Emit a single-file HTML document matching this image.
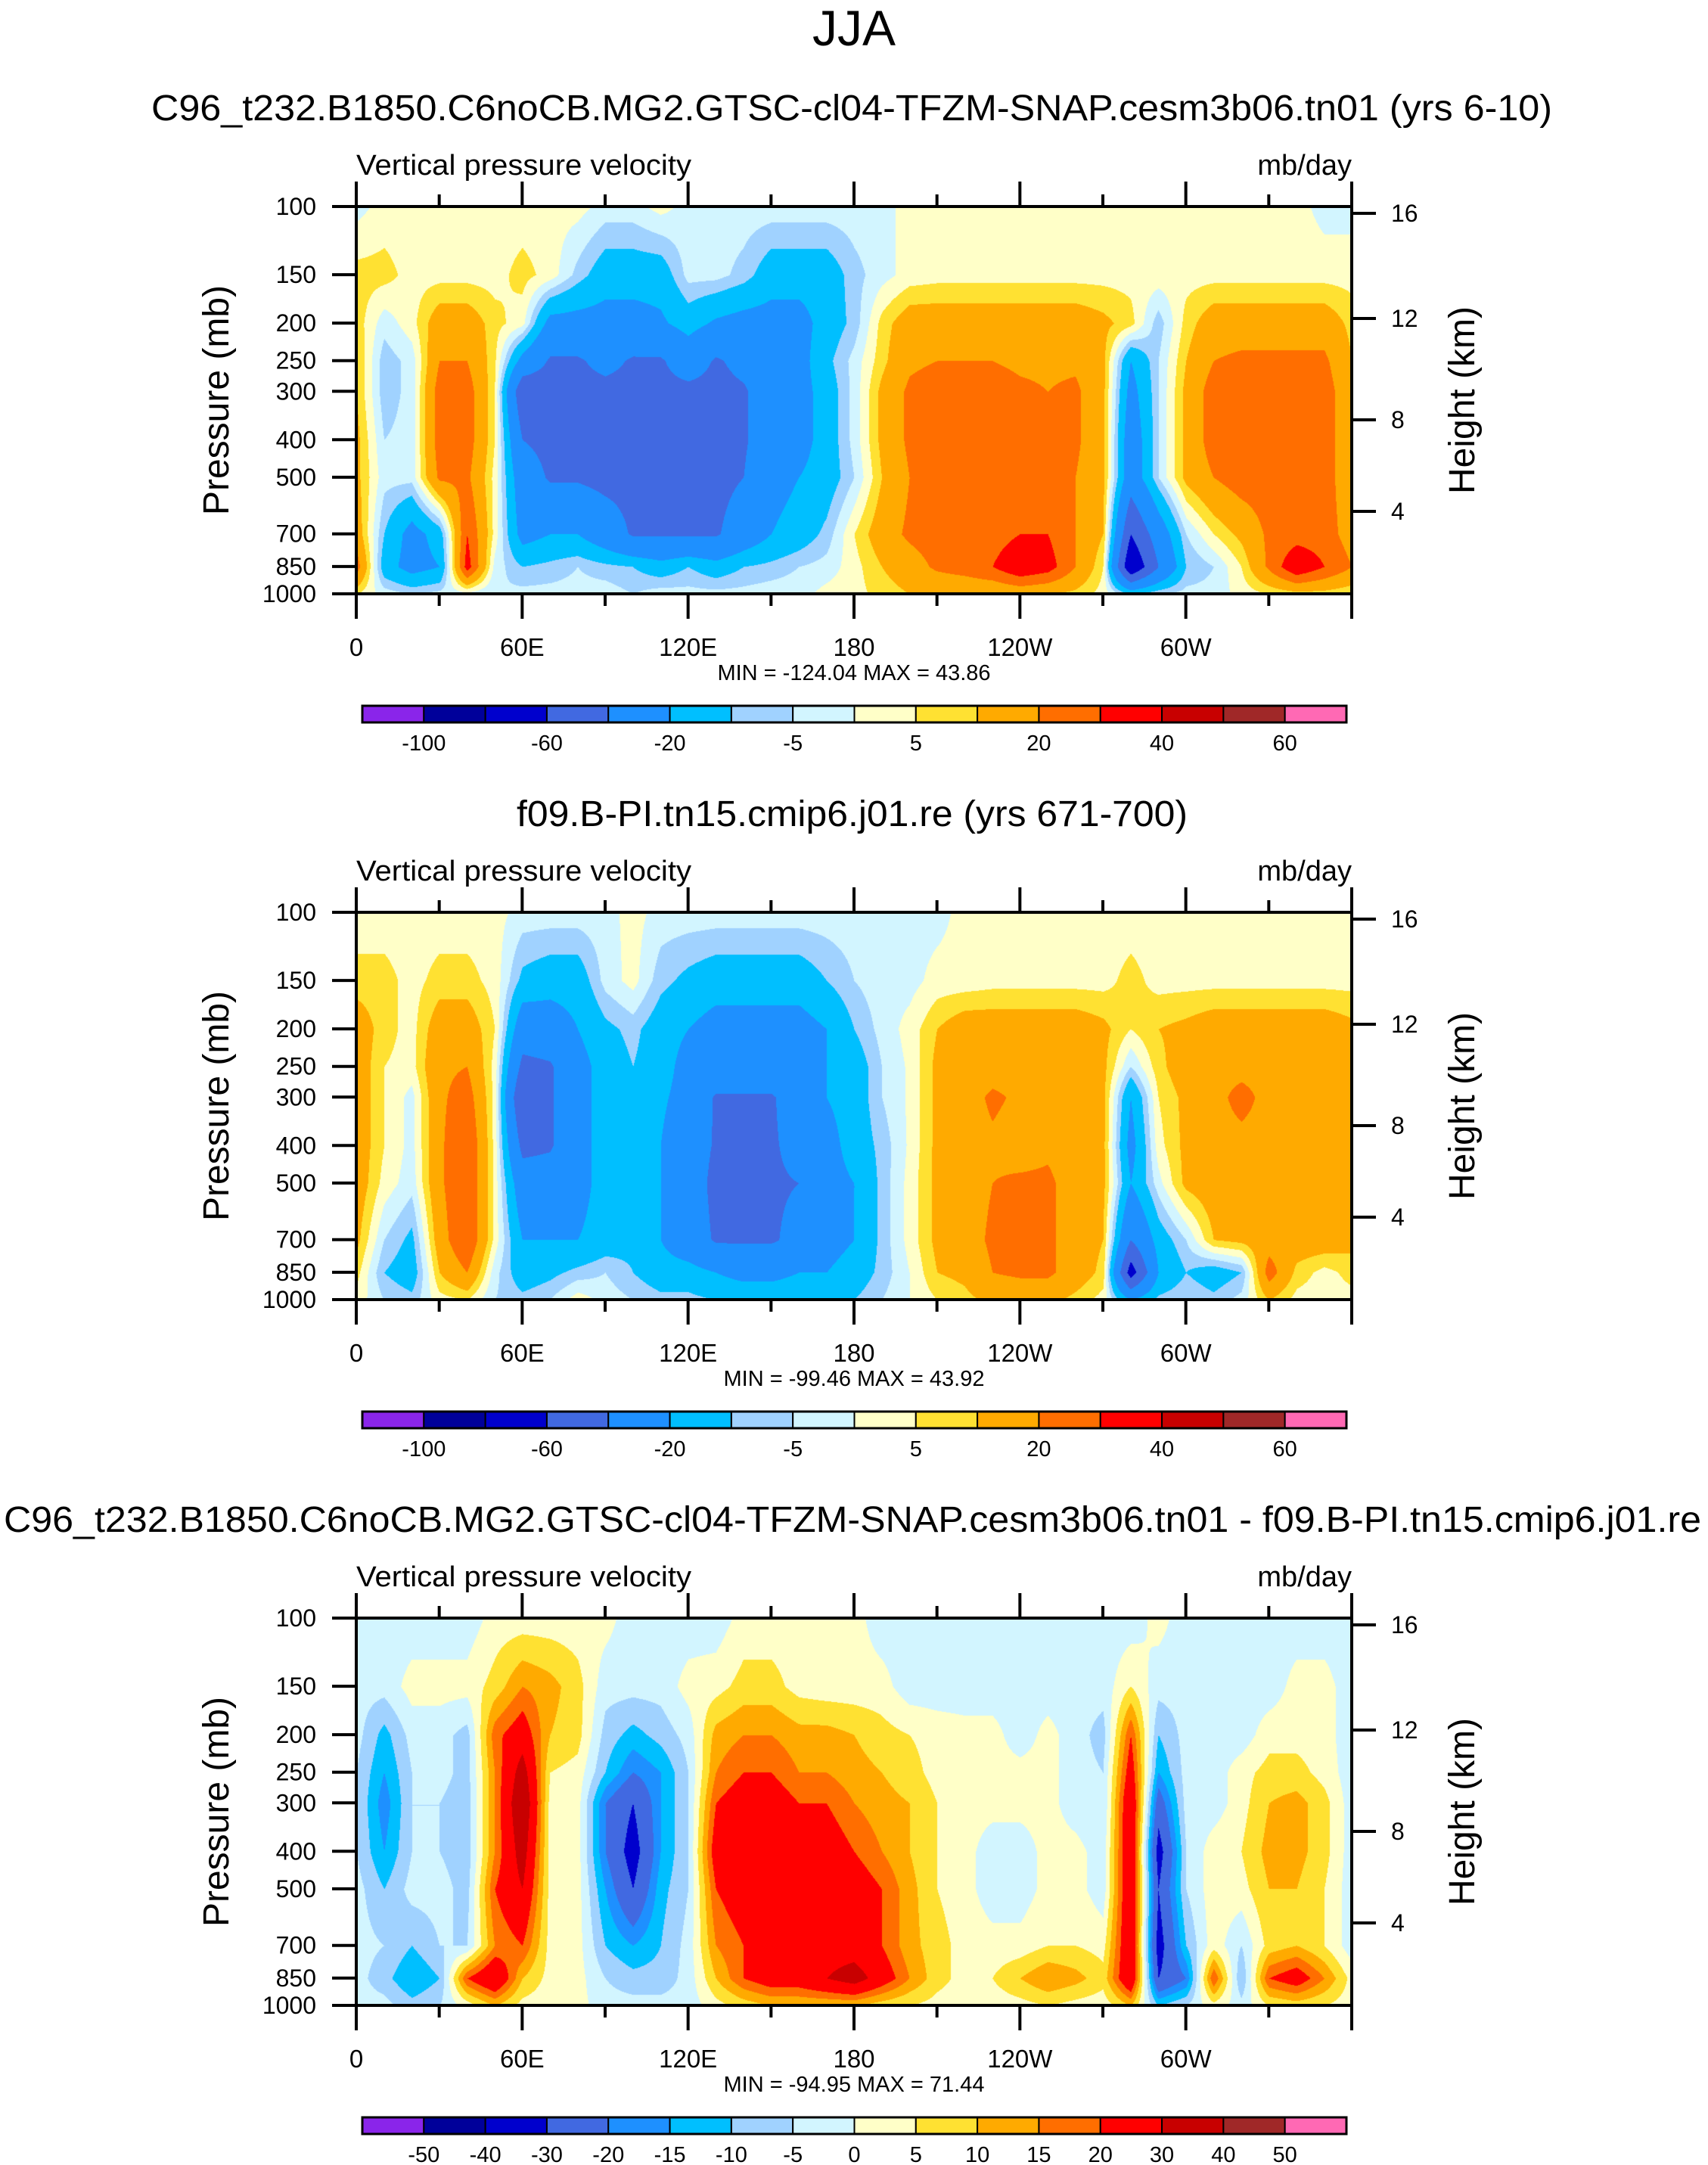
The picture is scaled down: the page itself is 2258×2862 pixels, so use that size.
<!DOCTYPE html>
<html><head><meta charset="utf-8"><style>
html,body{margin:0;padding:0;background:#fff;}
#root{position:relative;width:2258px;height:2862px;overflow:hidden;font-family:"Liberation Sans",Arial,sans-serif;}
canvas{position:absolute;}
svg{position:absolute;left:0;top:0;}
</style></head><body>
<div id="root">
<svg id="svg" width="2258" height="2862"></svg>
</div>
<script>
// ---- data ----
const lons=[0,10,20,30,40,50,60,70,80,90,100,110,120,130,140,150,160,170,180,190,200,210,220,230,240,250,260,270,280,290,300,310,320,330,340,350,360];
const plevs=[100,150,200,250,300,400,500,700,850,1000];
const field1=[
[-2,2,2,2,2,2,2,2,2,-2,-2,2,-2,-2,-2,-2,-2,-2,-2,-2,2,2,2,2,2,2,2,2,2,2,2,2,2,2,2,-2,-2],
[7,7,3,3,3,3,7,3,-7,-15,-15,-15,-3,-3,-7,-15,-15,-15,-7,-2,2,3,3,3,3,3,3,3,3,3,3,3,3,3,3,3,3],
[8,-3,3,15,15,7,2,-25,-25,-25,-25,-22,-15,-22,-25,-25,-25,-15,-8,7,15,15,15,15,15,15,15,12,7,-8,7,15,15,15,15,15,8],
[10,-8,-3,20,20,6,-25,-42,-42,-35,-42,-42,-30,-42,-35,-30,-25,-12,-3,8,18,20,20,20,18,18,18,12,-20,-5,10,20,22,22,22,22,10],
[10,-8,-3,25,25,5,-55,-50,-45,-45,-45,-45,-45,-45,-42,-30,-25,-15,-3,12,22,25,25,25,22,20,22,12,-25,-5,12,25,25,25,25,25,12],
[12,-5,-3,25,25,5,-40,-45,-45,-45,-45,-50,-45,-45,-42,-30,-25,-15,-3,12,22,25,25,25,25,22,22,12,-30,-5,12,25,25,25,25,25,12],
[12,-3,-3,22,22,3,-30,-42,-42,-45,-45,-50,-45,-45,-40,-25,-20,-15,-5,10,20,25,25,25,25,22,20,12,-30,-5,12,20,25,25,25,25,12],
[15,-10,-25,-15,30,3,-25,-20,-20,-30,-42,-42,-42,-42,-30,-20,-15,-8,5,15,22,25,25,25,30,30,20,10,-60,-30,-5,5,12,22,25,25,15],
[25,-15,-25,-20,35,-2,-10,-8,-5,-8,-10,-15,-10,-15,-10,-8,-5,-3,3,10,15,22,25,30,40,35,20,5,-80,-40,-10,-5,5,22,40,30,20],
[5,-2,-5,-3,-2,-5,-3,-3,-3,-2,-5,-2,-3,-3,-3,-2,-2,2,3,7,10,10,10,10,12,10,8,3,-10,-5,-3,-3,2,5,7,7,5]];
const field2=[
[2,2,2,2,2,2,-2,-2,-2,-2,2,-2,-2,-2,-2,-2,-2,-2,-2,-2,-2,-2,2,2,2,2,2,2,2,2,2,2,2,2,2,2,2],
[7,7,3,7,7,3,-12,-15,-15,-3,2,-8,-12,-15,-15,-15,-15,-10,-5,-2,-2,2,2,3,3,3,3,3,7,3,3,3,3,3,3,3,3],
[15,7,3,15,15,5,-30,-28,-20,-12,-8,-15,-20,-25,-25,-25,-25,-20,-10,-3,2,10,15,15,15,15,15,12,5,10,12,15,15,15,15,15,12],
[15,5,3,18,20,3,-45,-42,-25,-15,-10,-15,-25,-25,-25,-25,-25,-20,-15,-5,1,12,15,15,15,15,15,12,-5,8,15,15,15,15,15,15,12],
[15,5,-2,18,25,3,-60,-42,-25,-15,-12,-18,-25,-42,-42,-42,-30,-20,-15,-5,1,12,15,22,18,15,15,12,-20,5,12,15,25,15,15,15,15],
[15,5,-2,18,30,3,-45,-42,-25,-15,-12,-20,-30,-42,-45,-42,-35,-25,-15,-8,1,12,15,18,15,18,15,12,-25,3,12,15,15,15,15,15,15],
[15,3,-3,18,30,3,-30,-30,-25,-15,-12,-20,-30,-45,-45,-42,-40,-25,-20,-8,2,12,15,20,22,22,15,12,-20,-2,12,15,15,15,15,15,15],
[12,-5,-12,15,30,3,-20,-20,-20,-15,-12,-20,-30,-42,-42,-42,-35,-25,-20,-8,2,12,15,22,22,22,15,10,-40,-15,-5,10,12,15,15,15,12],
[7,-10,-15,10,20,-3,-15,-12,-8,-5,-10,-15,-15,-20,-25,-25,-20,-20,-15,-8,0,10,12,20,22,22,15,8,-70,-20,-10,-15,-10,25,8,3,7],
[3,-5,-8,3,5,-5,-8,-5,3,-2,-5,-8,-8,-10,-10,-10,-10,-10,-10,-5,0,5,8,12,12,12,8,3,-20,-8,-5,-8,-3,10,3,2,3]];
const field3=[
[-3,-3,-3,-3,-3,2,2,2,2,2,-3,-3,-3,-3,2,2,2,2,2,-3,-3,-3,-3,-3,-3,-3,-3,-3,-3,2,-3,-3,-3,-3,-3,-3,-3],
[-3,-3,2,2,2,7,15,12,7,-3,-3,-3,2,3,7,7,3,2,2,2,-3,-3,-3,-3,-3,-3,-3,-3,5,-3,-3,-3,-3,-3,2,2,-3],
[-3,-12,-3,-3,-7,18,25,10,7,-7,-12,-8,-3,12,15,15,12,12,10,7,5,3,2,2,-3,2,-3,-7,20,-10,-3,-3,-3,3,3,2,-3],
[-5,-15,-5,-3,-7,15,35,5,3,-10,-20,-15,-5,15,20,20,15,15,12,10,7,3,2,2,2,2,-3,-5,25,-15,-3,-3,3,7,7,3,-3],
[-5,-18,-5,-5,-8,15,40,3,2,-20,-30,-15,-5,20,25,25,20,20,15,12,10,5,2,2,2,2,-3,-5,30,-25,-3,-3,3,10,12,7,-3],
[-5,-15,-5,-5,-8,15,35,3,2,-20,-35,-15,-5,25,30,25,20,25,20,15,10,5,2,-3,-3,2,2,-3,30,-35,-5,3,5,12,12,7,-3],
[-3,-10,-3,-3,-7,20,30,3,2,-15,-30,-12,-5,20,25,25,25,30,25,20,12,5,2,-3,-3,2,2,-3,30,-30,-5,3,3,10,10,5,-3],
[-3,-5,-10,-5,-5,15,20,3,2,-10,-15,-10,-3,15,20,20,25,25,25,20,12,7,3,2,2,5,5,3,30,-35,-10,3,-5,7,10,5,-3],
[-3,-8,-15,-10,20,30,10,3,2,-5,-8,-8,-3,10,20,25,25,30,35,25,15,7,3,5,10,15,12,7,30,-30,-20,20,-10,20,25,15,3],
[-3,-3,-8,-5,2,10,3,2,2,-3,-3,-3,-3,3,7,10,10,10,10,7,5,3,2,2,3,5,3,2,10,-10,-5,3,-3,5,7,5,2]];
const levels12=[-100,-80,-60,-40,-20,-10,-5,0,5,10,20,30,40,50,60];
const levels3=[-50,-40,-30,-20,-15,-10,-5,0,5,10,15,20,30,40,50];
const cbLabels12=["-100","","-60","","-20","","-5","","5","","20","","40","","60"];
const cbLabels3=["-50","-40","-30","-20","-15","-10","-5","0","5","10","15","20","30","40","50"];
const lonTicks=[0,60,120,180,240,300];
const lonTickLabels=["0","60E","120E","180","120W","60W"];
const pTicks=[100,150,200,250,300,400,500,700,850,1000];
const hTickLabels=["16","12","8","4"];
const titles=["C96_t232.B1850.C6noCB.MG2.GTSC-cl04-TFZM-SNAP.cesm3b06.tn01 (yrs 6-10)","f09.B-PI.tn15.cmip6.j01.re (yrs 671-700)","C96_t232.B1850.C6noCB.MG2.GTSC-cl04-TFZM-SNAP.cesm3b06.tn01 - f09.B-PI.tn15.cmip6.j01.re"];
const minmax=["MIN = -124.04  MAX =  43.86","MIN = -99.46  MAX =  43.92","MIN = -94.95  MAX =  71.44"];
const colors=["#8a25ea","#00009a","#0000cd","#4169e1","#1e90ff","#00bfff","#a0d2ff","#d2f5ff","#ffffc8","#ffe132","#ffaa00","#ff6e00","#ff0000","#c80000","#a02828","#ff69b4"];

// ---- layout ----
const PX0=471,PX1=1787,PH=512,TOPS=[273,1206,2139];
const titleSpans=[[200,2052],[683,1570],[5,2249]];
const hTickY=[9,148,282,403];
const svg=document.getElementById('svg'),NS="http://www.w3.org/2000/svg",root=document.getElementById('root');
function xs(lon){return PX0+(lon/360)*(PX1-PX0);}
function ys(p,top){return top+Math.log10(p/100)*PH;}
function mk(tag,at,parent){const e=document.createElementNS(NS,tag);for(const k in at)e.setAttribute(k,at[k]);(parent||svg).appendChild(e);return e;}
function txt(s,x,y,size,anchor,extra){const t=mk('text',Object.assign({x:x,y:y,'font-size':size,'text-anchor':anchor||'middle','font-family':'Liberation Sans, Arial, sans-serif',fill:'#000'},extra||{}));t.textContent=s;return t;}
function hex(c){return[parseInt(c.substr(1,2),16),parseInt(c.substr(3,2),16),parseInt(c.substr(5,2),16)];}
const rgb=colors.map(hex);
function val(field,lon,fr){
  let i=Math.min(lons.length-2,Math.floor(lon/10)),tx=(lon-lons[i])/10;
  const lp=plevs.map(p=>Math.log10(p/100));
  let j=0;while(j<plevs.length-2&&fr>lp[j+1])j++;
  let ty=(fr-lp[j])/(lp[j+1]-lp[j]);ty=Math.max(0,Math.min(1,ty));
  const a=field[j][i]*(1-tx)+field[j][i+1]*tx,b=field[j+1][i]*(1-tx)+field[j+1][i+1]*tx;
  return a*(1-ty)+b*ty;
}
const t0=txt("JJA",1129,60,66);


[field1,field2,field3].forEach((field,k)=>{
  const top=TOPS[k],levels=k<2?levels12:levels3,cbl=k<2?cbLabels12:cbLabels3,g=mk('g',{});
  
  
  const W=PX1-PX0,cv=document.createElement('canvas');cv.width=W;cv.height=PH;cv.style.left=PX0+'px';cv.style.top=top+'px';
  
  
  root.insertBefore(cv,svg);
  const ctx=cv.getContext('2d'),im=ctx.createImageData(W,PH);
  for(let y=0;y<PH;y++){const fr=y/PH;for(let x=0;x<W;x++){const v=val(field,x/W*360,fr);let c=0;while(c<levels.length&&v>=levels[c])c++;const o=(y*W+x)*4,cc=rgb[c];im.data[o]=cc[0];im.data[o+1]=cc[1];im.data[o+2]=cc[2];im.data[o+3]=255;}}
  ctx.putImageData(im,0,0);
  const sp=titleSpans[k];
  const tt=txt(titles[k],sp[0],top-114,48,'start',{textLength:sp[1]-sp[0],lengthAdjust:'spacingAndGlyphs'});
  
  
  const l1=txt("Vertical pressure velocity",PX0,top-42,38,'start',{textLength:443,lengthAdjust:'spacingAndGlyphs'});
  
  
  const l2=txt("mb/day",1787,top-42,38,'end');
  
  
  const box=mk('rect',{x:PX0,y:top,width:W,height:PH,fill:'none',stroke:'#000','stroke-width':4},g);
  
  
  for(let lon=0;lon<=360;lon+=30){const maj=lon%60==0,L=maj?33:16,x=xs(lon);
    mk('line',{x1:x,x2:x,y1:top,y2:top-L,stroke:'#000','stroke-width':4},g);
    mk('line',{x1:x,x2:x,y1:top+PH,y2:top+PH+L,stroke:'#000','stroke-width':4},g);}
  lonTicks.forEach((lon,i)=>{const t=txt(lonTickLabels[i],xs(lon),top+PH+82,33);
    
    });
  pTicks.forEach(p=>{const y=ys(p,top);mk('line',{x1:PX0-32,x2:PX0,y1:y,y2:y,stroke:'#000','stroke-width':4},g);
    const t=txt(String(p),418,y+11,32,'end');
    
    });
  hTickLabels.forEach((h,i)=>{const y=top+hTickY[i];mk('line',{x1:PX1,x2:PX1+32,y1:y,y2:y,stroke:'#000','stroke-width':4},g);
    const t=txt(h,1839,y+11,32,'start');
    
    });
  const yt=txt("Pressure (mb)",0,0,48,'middle',{transform:`translate(302,${top+256}) rotate(-90)`});
  
  
  const rt=txt("Height (km)",0,0,48,'middle',{transform:`translate(1949,${top+256}) rotate(-90)`});
  
  
  const mm=txt(minmax[k],1129,top+626,29);
  
  
  const cb0=479,cbw=(1780-479)/16,cby=top+660;
  colors.forEach((c,i)=>{const r=mk('rect',{x:cb0+i*cbw,y:cby,width:cbw,height:22,fill:c,stroke:'#000','stroke-width':2},g);
    
    });
  mk('rect',{x:cb0,y:cby,width:cbw*16,height:22,fill:'none',stroke:'#000','stroke-width':3},g);
  cbl.forEach((s,i)=>{if(!s)return;const t=txt(s,cb0+(i+1)*cbw,cby+59,29);
    
    });
});
</script>
</body></html>
